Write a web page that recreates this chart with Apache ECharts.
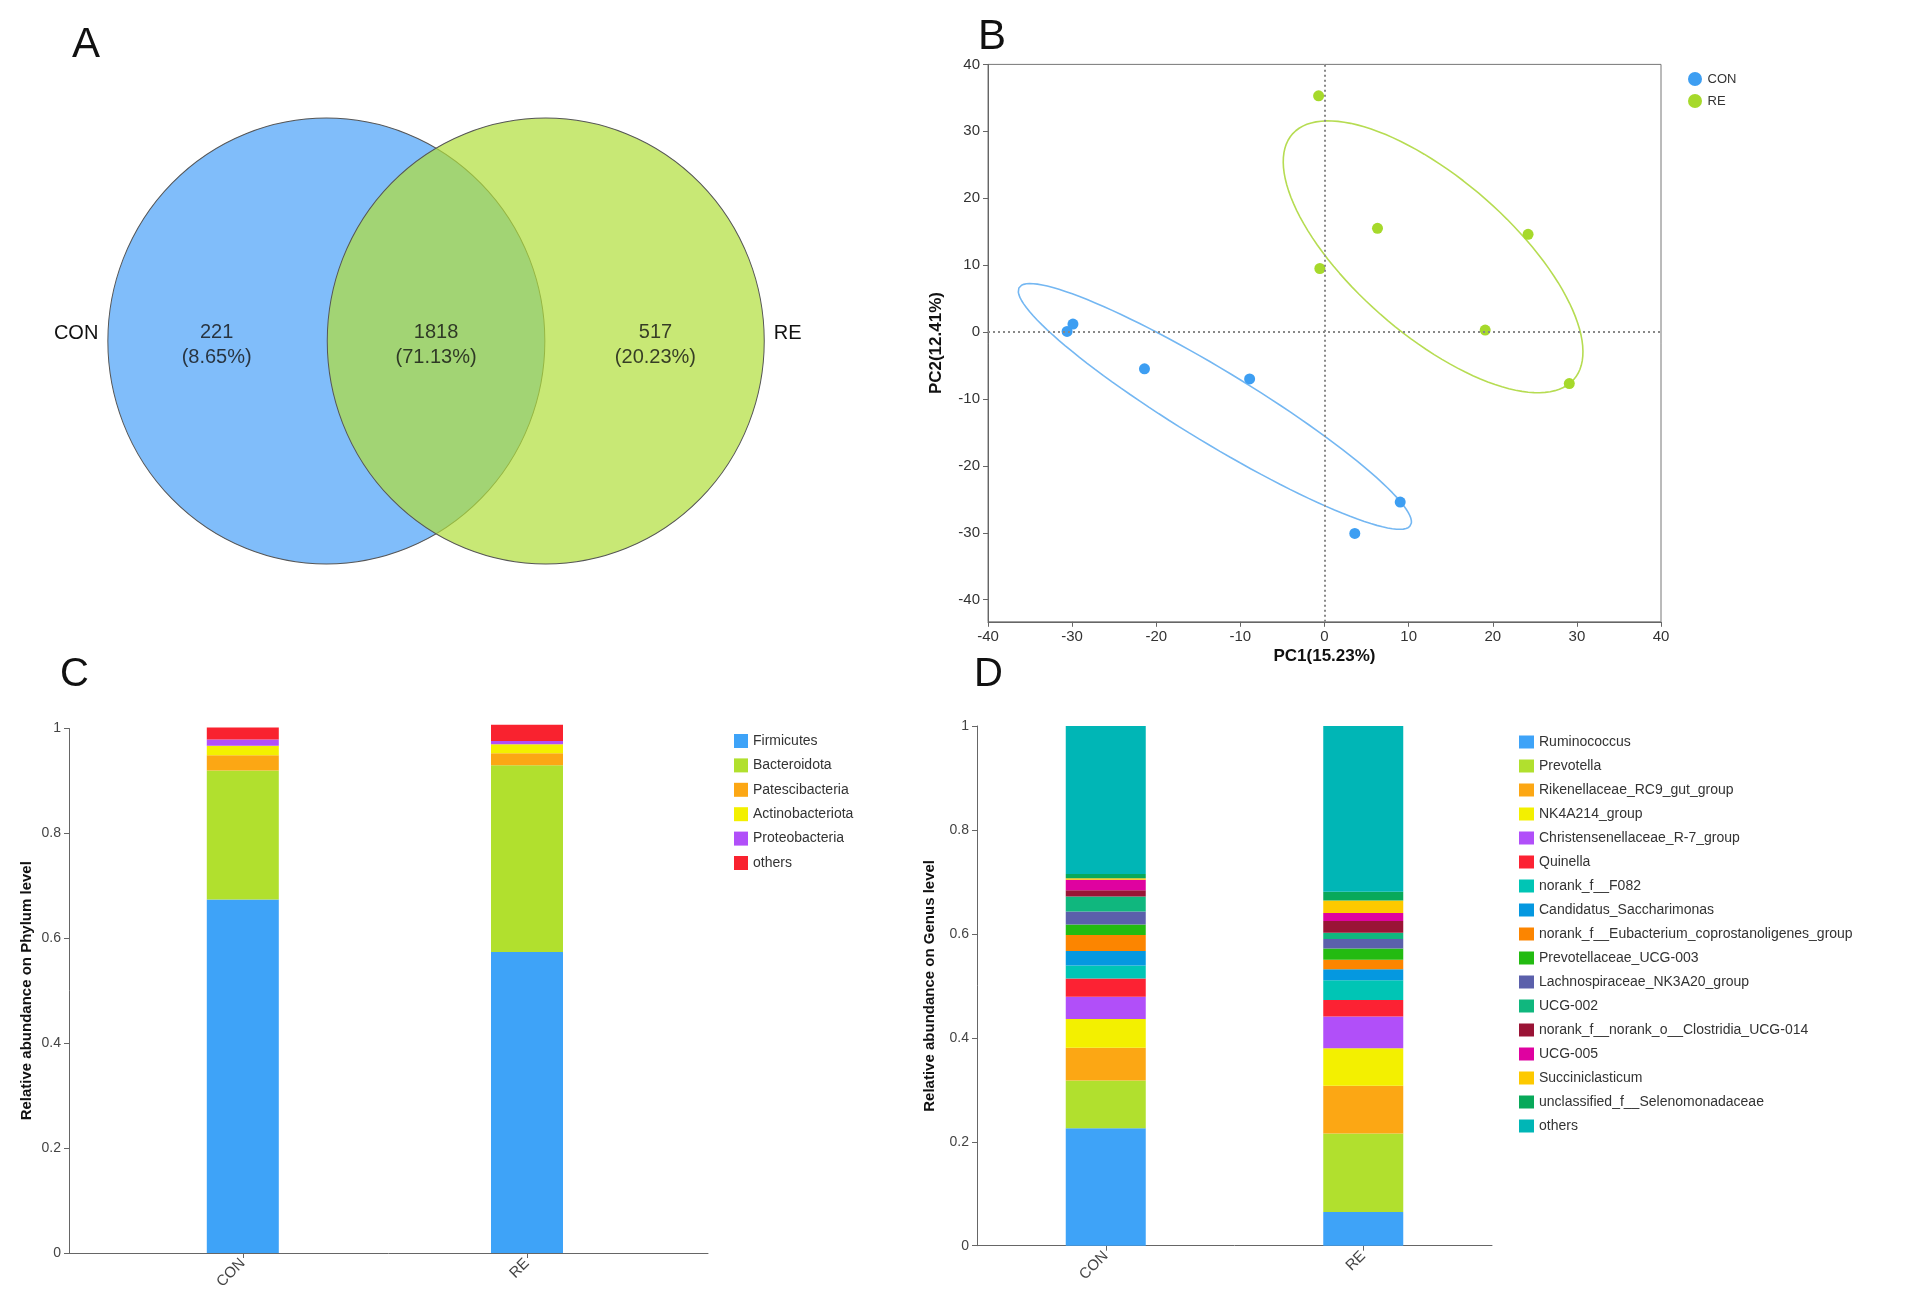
<!DOCTYPE html>
<html>
<head>
<meta charset="utf-8">
<script src="https://cdn.jsdelivr.net/npm/echarts@6/dist/echarts.min.js"></script>
<style>
  html, body { margin: 0; padding: 0; background: #fff; }
  #chart { width: 1912px; height: 1308px; }
</style>
</head>
<body>
<div id="chart"></div>
<script>
// ---- data ----
const VENN_SETS = ['CON', 'RE'];
const VENN_COUNTS = [221, 1818, 517]; // only CON, shared, only RE

const PCA_CON_X = [-30.6, -29.9, -21.4, -8.9, 9.0, 3.6];
const PCA_CON_Y = [0.1, 1.2, -5.5, -7.0, -25.4, -30.1];
const PCA_RE_X = [-0.7, 6.3, 24.2, -0.55, 19.1, 29.1];
const PCA_RE_Y = [35.3, 15.5, 14.6, 9.5, 0.3, -7.7];
const PCA_TICKS = [-40, -30, -20, -10, 0, 10, 20, 30, 40];

const GROUPS = ['CON', 'RE'];

const PHYLUM_NAMES = ['Firmicutes', 'Bacteroidota', 'Patescibacteria', 'Actinobacteriota', 'Proteobacteria', 'others'];
const PHYLUM_CON = [0.674, 0.246, 0.029, 0.018, 0.012, 0.023];
const PHYLUM_RE = [0.574, 0.356, 0.023, 0.017, 0.006, 0.031];

const GENUS_NAMES = [
  'Ruminococcus', 'Prevotella', 'Rikenellaceae_RC9_gut_group', 'NK4A214_group',
  'Christensenellaceae_R-7_group', 'Quinella', 'norank_f__F082', 'Candidatus_Saccharimonas',
  'norank_f__Eubacterium_coprostanoligenes_group', 'Prevotellaceae_UCG-003',
  'Lachnospiraceae_NK3A20_group', 'UCG-002', 'norank_f__norank_o__Clostridia_UCG-014',
  'UCG-005', 'Succiniclasticum', 'unclassified_f__Selenomonadaceae', 'others'
];
const GENUS_CON = [0.226, 0.092, 0.063, 0.055, 0.043, 0.035, 0.025, 0.028, 0.031, 0.020, 0.025, 0.029, 0.012, 0.020, 0.003, 0.008, 0.285];
const GENUS_RE = [0.065, 0.151, 0.092, 0.072, 0.061, 0.032, 0.038, 0.021, 0.018, 0.022, 0.018, 0.012, 0.023, 0.015, 0.024, 0.017, 0.319];

// ---- styles ----
const PHYLUM_COLORS = ['#3ea3f8', '#b1e02e', '#fca714', '#f3f000', '#b14ff9', '#f9222f'];
const GENUS_COLORS = [
  '#3ea3f8', '#b1e02e', '#fca714', '#f3f000', '#b14ff9', '#fc2233', '#00c5b5', '#0598e0',
  '#fc8500', '#23bb11', '#5b60ab', '#10b77e', '#9a1436', '#df02a0', '#fdc900', '#08a95a', '#00b6b6'
];
const FONT = 'Liberation Sans, Arial, sans-serif';
const AXIS_GRAY = '#666';
const LABEL_GRAY = '#444';

// confidence ellipse from the sample covariance
function ellipse(xs, ys, k, n) {
  const m = xs.length;
  const mx = xs.reduce((s, v) => s + v, 0) / m;
  const my = ys.reduce((s, v) => s + v, 0) / m;
  let sxx = 0, syy = 0, sxy = 0;
  for (let i = 0; i < m; i++) {
    sxx += (xs[i] - mx) ** 2;
    syy += (ys[i] - my) ** 2;
    sxy += (xs[i] - mx) * (ys[i] - my);
  }
  sxx /= m - 1; syy /= m - 1; sxy /= m - 1;
  const half = (sxx + syy) / 2;
  const d = Math.sqrt(((sxx - syy) / 2) ** 2 + sxy ** 2);
  const a = k * Math.sqrt(half + d);
  const b = k * Math.sqrt(Math.max(half - d, 0));
  const th = 0.5 * Math.atan2(2 * sxy, sxx - syy);
  const pts = [];
  for (let i = 0; i <= n; i++) {
    const t = (2 * Math.PI * i) / n;
    pts.push([
      mx + a * Math.cos(t) * Math.cos(th) - b * Math.sin(t) * Math.sin(th),
      my + a * Math.cos(t) * Math.sin(th) + b * Math.sin(t) * Math.cos(th),
    ]);
  }
  return pts;
}

const zip = (xs, ys) => xs.map((x, i) => [x, ys[i]]);

const vennTotal = VENN_COUNTS.reduce((s, v) => s + v, 0);
const vennLabels = VENN_COUNTS.map((c, i) => [i - 0.5, 0, c]);

const hiddenAxis = { show: false };

const valueAxisStyle = {
  axisLine: { show: true, onZero: false, lineStyle: { color: AXIS_GRAY } },
  axisTick: { show: true, length: 5, lineStyle: { color: AXIS_GRAY } },
  axisLabel: { fontSize: 14, color: LABEL_GRAY, fontFamily: FONT },
  splitLine: { show: false },
};

const phylumSeries = PHYLUM_NAMES.map((name, i) => ({
  type: 'bar', name, stack: 'phylum', xAxisIndex: 3, yAxisIndex: 3,
  barWidth: 72, clip: false,
  itemStyle: { color: PHYLUM_COLORS[i] },
  data: [PHYLUM_CON[i], PHYLUM_RE[i]],
}));

const genusSeries = GENUS_NAMES.map((name, i) => ({
  type: 'bar', name, stack: 'genus', xAxisIndex: 4, yAxisIndex: 4,
  barWidth: 80, clip: false,
  itemStyle: { color: GENUS_COLORS[i] },
  data: [GENUS_CON[i], GENUS_RE[i]],
}));

const chart = echarts.init(document.getElementById('chart'));

chart.setOption({
  animation: false,
  backgroundColor: '#fff',
  textStyle: { fontFamily: FONT },
  grid: [
    { left: 19.2, top: 241, width: 833.7, height: 200 },                    // A venn
    { left: 988, top: 64.4, width: 673, height: 557.4, show: true, borderColor: '#777', borderWidth: 1 }, // B
    { left: 69, top: 728.5, width: 639, height: 524.5 },                    // C frame
    { left: 100.7, top: 728.5, width: 568.4, height: 524.5 },               // C bars
    { left: 977, top: 726, width: 515, height: 519.7 },                     // D
  ],
  xAxis: [
    { gridIndex: 0, type: 'value', min: -1.4, max: 2.4, ...hiddenAxis },
    {
      gridIndex: 1, type: 'value', min: -40, max: 40, interval: 10,
      ...valueAxisStyle,
      axisLabel: { fontSize: 15, color: '#333', margin: 8 },
      name: 'PC1(15.23%)', nameLocation: 'middle', nameGap: 26,
      nameTextStyle: { fontSize: 17, fontWeight: 'bold', color: '#111' },
    },
    {
      gridIndex: 2, type: 'value', min: 0, max: 1,
      axisLine: { show: true, onZero: false, lineStyle: { color: AXIS_GRAY } },
      axisTick: { show: false }, axisLabel: { show: false }, splitLine: { show: false },
    },
    {
      gridIndex: 3, type: 'category', data: GROUPS,
      axisLine: { show: false },
      axisTick: { show: true, alignWithLabel: true, length: 5, lineStyle: { color: AXIS_GRAY } },
      axisLabel: { rotate: 45, fontSize: 15, color: LABEL_GRAY, margin: 8 },
    },
    {
      gridIndex: 4, type: 'category', data: GROUPS,
      axisLine: { show: true, lineStyle: { color: AXIS_GRAY } },
      axisTick: { show: true, alignWithLabel: true, length: 5, lineStyle: { color: AXIS_GRAY } },
      axisLabel: { rotate: 45, fontSize: 15, color: LABEL_GRAY, margin: 8 },
    },
  ],
  yAxis: [
    { gridIndex: 0, type: 'value', min: -1, max: 1, ...hiddenAxis },
    {
      gridIndex: 1, type: 'value', min: -43.3, max: 40,
      ...valueAxisStyle,
      axisTick: { show: true, length: 5, lineStyle: { color: AXIS_GRAY }, customValues: PCA_TICKS },
      axisLabel: { fontSize: 15, color: '#333', customValues: PCA_TICKS },
      name: 'PC2(12.41%)', nameLocation: 'middle', nameGap: 43,
      nameTextStyle: { fontSize: 17, fontWeight: 'bold', color: '#111' },
    },
    {
      gridIndex: 2, type: 'value', min: 0, max: 1, interval: 0.2,
      ...valueAxisStyle,
      name: 'Relative abundance on Phylum level', nameLocation: 'middle', nameGap: 35,
      nameTextStyle: { fontSize: 15, fontWeight: 'bold', color: '#111' },
    },
    { gridIndex: 3, type: 'value', min: 0, max: 1, ...hiddenAxis },
    {
      gridIndex: 4, type: 'value', min: 0, max: 1, interval: 0.2,
      ...valueAxisStyle,
      name: 'Relative abundance on Genus level', nameLocation: 'middle', nameGap: 40,
      nameTextStyle: { fontSize: 15, fontWeight: 'bold', color: '#111' },
    },
  ],
  legend: [
    {
      data: GROUPS, left: 1683, top: 67, orient: 'vertical', icon: 'circle',
      itemWidth: 15, itemHeight: 14, itemGap: 8,
      textStyle: { fontSize: 13, color: '#333' },
    },
    {
      data: PHYLUM_NAMES, left: 729, top: 729, orient: 'vertical', icon: 'rect',
      itemWidth: 14, itemHeight: 14, itemGap: 10.4,
      textStyle: { fontSize: 14, color: '#333' },
    },
    {
      data: GENUS_NAMES.map((name, i) => ({ name, itemStyle: { color: GENUS_COLORS[i] } })),
      left: 1514, top: 730, orient: 'vertical', icon: 'rect',
      itemWidth: 15, itemHeight: 13, itemGap: 10,
      textStyle: { fontSize: 14, color: '#333' },
    },
  ],
  graphic: [
    { type: 'text', left: 72, top: 24, style: { text: 'A', fontSize: 42, fill: '#111', fontFamily: FONT } },
    { type: 'text', left: 978, top: 16, style: { text: 'B', fontSize: 42, fill: '#111', fontFamily: FONT } },
    { type: 'text', left: 60, top: 655, style: { text: 'C', fontSize: 40, fill: '#111', fontFamily: FONT } },
    { type: 'text', left: 974, top: 655, style: { text: 'D', fontSize: 40, fill: '#111', fontFamily: FONT } },
  ],
  series: [
    // A: venn
    {
      type: 'scatter', name: 'venn-CON', xAxisIndex: 0, yAxisIndex: 0, silent: true,
      symbol: 'circle', symbolSize: [437, 446],
      itemStyle: { color: '#80bdfa', opacity: 1, borderColor: '#555', borderWidth: 1 },
      label: { show: true, position: 'left', distance: 9, offset: [0, -8], formatter: VENN_SETS[0], fontSize: 20, color: '#111' },
      data: [[0, 0]],
    },
    {
      type: 'scatter', name: 'venn-RE', xAxisIndex: 0, yAxisIndex: 0, silent: true,
      symbol: 'circle', symbolSize: [437, 446],
      itemStyle: { color: 'rgba(176,222,59,0.7)', opacity: 1, borderColor: '#555', borderWidth: 1 },
      label: { show: true, position: 'right', distance: 9, offset: [0, -8], formatter: VENN_SETS[1], fontSize: 20, color: '#111' },
      data: [[1, 0]],
    },
    {
      type: 'scatter', name: 'venn-counts', xAxisIndex: 0, yAxisIndex: 0, silent: true, z: 5,
      symbolSize: 1, itemStyle: { color: 'rgba(0,0,0,0)' },
      label: {
        show: true, position: 'inside', fontSize: 20, lineHeight: 25, color: '#111', offset: [0, 4],
        formatter: (p) => p.value[2] + '\n(' + (p.value[2] / vennTotal * 100).toFixed(2) + '%)',
      },
      data: vennLabels,
    },
    // B: PCA
    {
      type: 'line', name: 'CON ellipse', xAxisIndex: 1, yAxisIndex: 1, silent: true,
      showSymbol: false, symbol: 'none', lineStyle: { color: '#74b7f2', width: 1.6 },
      data: ellipse(PCA_CON_X, PCA_CON_Y, 1.376, 120),
    },
    {
      type: 'line', name: 'RE ellipse', xAxisIndex: 1, yAxisIndex: 1, silent: true,
      showSymbol: false, symbol: 'none', lineStyle: { color: '#b6dc52', width: 1.6 },
      data: ellipse(PCA_RE_X, PCA_RE_Y, 1.376, 120),
    },
    {
      type: 'scatter', name: 'CON', xAxisIndex: 1, yAxisIndex: 1, symbolSize: 11, z: 4,
      itemStyle: { color: '#3d9ef2', opacity: 1 },
      data: zip(PCA_CON_X, PCA_CON_Y),
      markLine: {
        silent: true, symbol: 'none', label: { show: false },
        lineStyle: { type: [2, 3], color: '#888', width: 2 },
        data: [{ xAxis: 0 }, { yAxis: 0 }],
      },
    },
    {
      type: 'scatter', name: 'RE', xAxisIndex: 1, yAxisIndex: 1, symbolSize: 11, z: 4,
      itemStyle: { color: '#a6d92b', opacity: 1 },
      data: zip(PCA_RE_X, PCA_RE_Y),
    },
    // C and D: stacked bars
    ...phylumSeries,
    ...genusSeries,
  ],
});
</script>
</body>
</html>
